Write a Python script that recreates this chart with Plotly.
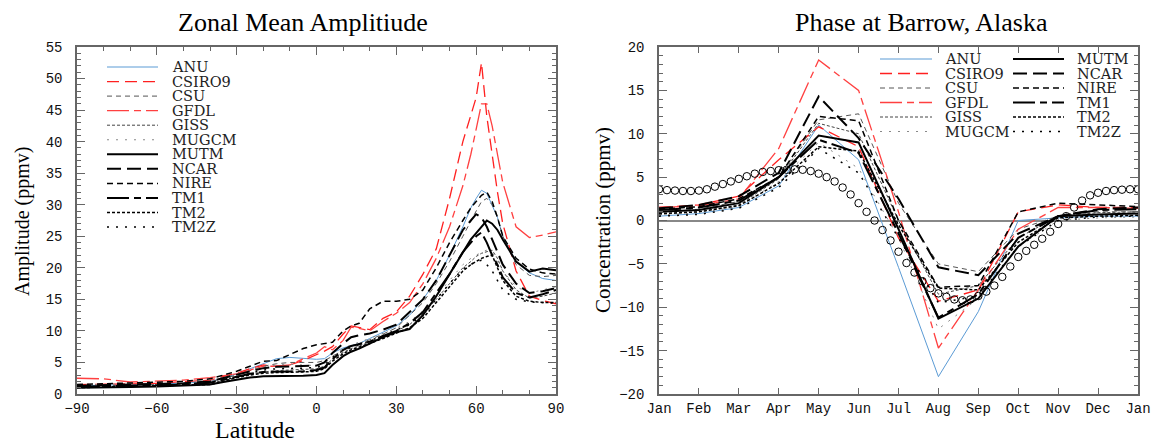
import plotly.graph_objects as go

W, H = 1156, 444

models = ["ANU", "CSIRO9", "CSU", "GFDL", "GISS", "MUGCM",
          "MUTM", "NCAR", "NIRE", "TM1", "TM2", "TM2Z"]

# ---- left panel: zonal mean seasonal amplitude (ppmv) vs latitude
lat = [-90, -80, -70, -60, -50, -40, -35, -30, -25, -20, -15, -10, -5, 0, 3, 6, 10, 13, 16, 20,
       25, 30, 35, 40, 45, 50, 55, 58, 60, 62, 64, 66, 68, 70, 75, 80, 85, 90]

amp_anu = [1.3, 1.4, 1.4, 1.5, 1.7, 2.0, 2.5, 3.2, 4.0, 4.8, 5.6, 5.8, 5.6, 5.5, 5.6, 6.5, 7.3, 7.7, 8.0, 8.8,
           9.8, 10.8, 12.5, 15.0, 18.0, 22.0, 26.5, 29.5, 31.0, 32.3, 31.8, 30.0, 28.0, 25.0, 21.0, 19.2, 18.3, 18.0]
amp_csiro9 = [1.5, 1.5, 1.6, 1.7, 1.9, 2.2, 2.8, 3.3, 4.0, 4.6, 4.4, 4.6, 5.3, 6.2, 6.8, 7.5, 9.5, 10.8, 10.5, 10.2,
              12.0, 13.0, 15.5, 19.0, 23.0, 31.0, 40.0, 44.0, 47.0, 52.5, 44.0, 38.0, 32.0, 27.0, 19.5, 15.5, 14.8, 14.3]
amp_csu = [1.2, 1.3, 1.3, 1.4, 1.6, 1.9, 2.4, 3.0, 3.7, 4.4, 4.8, 5.0, 5.0, 5.0, 5.3, 6.0, 7.0, 7.6, 8.0, 8.6,
           9.5, 10.5, 12.5, 14.5, 17.5, 21.0, 25.0, 27.5, 29.0, 30.5, 31.0, 30.0, 28.0, 25.0, 20.5, 18.8, 18.6, 18.8]
amp_gfdl = [2.5, 2.4, 1.9, 2.0, 2.2, 2.6, 2.9, 3.2, 3.8, 4.4, 4.4, 4.6, 5.6, 6.5, 7.5, 7.0, 8.5, 10.6, 10.4, 10.0,
            11.5, 12.8, 14.5, 17.5, 21.5, 26.5, 33.0, 38.0, 42.0, 46.0, 46.0, 42.5, 38.0, 33.5, 26.5, 24.8, 25.2, 25.7]
amp_giss = [1.1, 1.2, 1.2, 1.3, 1.4, 1.7, 2.1, 2.6, 3.1, 3.5, 3.7, 3.8, 3.9, 4.0, 4.4, 5.5, 6.6, 7.2, 7.6, 8.2,
            9.0, 10.0, 11.0, 12.8, 15.0, 17.5, 20.0, 21.0, 21.8, 22.3, 22.6, 22.8, 21.5, 19.5, 16.5, 15.2, 15.5, 16.0]
amp_mugcm = [1.4, 1.5, 1.5, 1.6, 1.8, 2.1, 2.6, 3.2, 3.8, 4.3, 4.6, 4.7, 4.6, 4.5, 4.8, 6.0, 7.2, 7.8, 8.2, 8.8,
             9.6, 10.4, 11.5, 13.2, 15.5, 18.0, 20.5, 21.5, 22.0, 22.5, 22.8, 22.5, 21.0, 19.5, 17.0, 16.0, 16.5, 17.0]
amp_mutm = [1.0, 1.0, 1.1, 1.2, 1.3, 1.5, 1.9, 2.3, 2.6, 2.8, 2.8, 2.8, 2.9, 3.0, 3.3, 4.6, 6.0, 6.7, 7.2, 8.0,
            9.0, 9.8, 10.3, 12.5, 15.5, 19.0, 22.5, 24.5, 25.5, 26.5, 27.5, 27.0, 26.0, 24.5, 21.0, 19.4, 19.9, 19.6]
amp_ncar = [1.3, 1.4, 1.4, 1.5, 1.7, 2.0, 2.5, 3.0, 3.6, 4.1, 4.3, 4.4, 4.4, 4.5, 5.0, 6.5, 8.0, 9.0, 9.3, 9.6,
            10.2, 11.0, 13.0, 15.0, 18.0, 22.0, 26.0, 27.5, 28.5, 28.0, 26.5, 24.5, 22.5, 20.5, 17.5, 16.0, 16.3, 16.8]
amp_nire = [1.5, 1.6, 1.7, 1.8, 2.0, 2.4, 3.0, 3.6, 4.4, 5.2, 5.3, 6.2, 7.2, 7.8, 8.0, 8.2, 10.0, 10.8, 11.2, 13.5,
            14.7, 14.7, 15.0, 16.5, 20.0, 24.0, 27.5, 29.5, 30.5, 31.5, 32.0, 30.5, 28.0, 25.0, 21.5, 19.8, 19.2, 19.0]
amp_tm1 = [1.2, 1.2, 1.3, 1.4, 1.5, 1.8, 2.3, 2.8, 3.2, 3.5, 3.5, 3.5, 3.6, 3.8, 4.2, 5.5, 7.0, 7.6, 7.9, 8.3,
           9.2, 10.0, 11.2, 13.0, 16.0, 19.0, 22.5, 24.0, 25.0, 25.6, 24.0, 22.0, 20.5, 18.5, 16.0, 15.3, 15.8, 16.5]
amp_tm2 = [1.0, 1.1, 1.1, 1.2, 1.3, 1.5, 2.0, 2.6, 3.0, 3.3, 3.4, 3.4, 3.5, 3.6, 4.0, 5.2, 6.4, 7.0, 7.4, 8.0,
           8.8, 9.6, 10.5, 12.0, 14.5, 17.0, 19.5, 20.5, 21.0, 21.5, 21.8, 22.0, 20.0, 18.0, 15.5, 14.7, 14.5, 14.5]
amp_tm2z = [1.1, 1.1, 1.2, 1.3, 1.4, 1.6, 2.2, 2.7, 3.2, 3.8, 4.0, 4.0, 4.1, 4.2, 4.6, 5.8, 6.9, 7.4, 7.8, 8.4,
            9.3, 10.2, 11.0, 12.5, 15.0, 17.5, 19.8, 20.5, 21.0, 21.2, 20.5, 19.5, 18.0, 16.5, 15.0, 14.6, 14.5, 14.4]

# ---- right panel: seasonal cycle at Barrow (ppmv)
months = list(range(13))
month_labels = ["Jan", "Feb", "Mar", "Apr", "May", "Jun", "Jul",
                "Aug", "Sep", "Oct", "Nov", "Dec", "Jan"]

ph_anu = [0.5, 0.8, 1.5, 4.0, 11.0, 7.0, -5.4, -18.0, -10.5, 0.0, 0.3, 0.5, 0.5]
ph_csiro9 = [1.5, 1.8, 2.8, 7.0, 10.8, 8.5, -2.0, -9.3, -8.0, 1.0, 1.8, 1.5, 1.5]
ph_csu = [1.0, 1.3, 2.2, 5.0, 11.6, 12.3, 2.0, -5.0, -5.9, -1.0, 0.5, 1.0, 1.0]
ph_gfdl = [1.5, 1.7, 2.5, 8.3, 18.5, 15.0, 1.0, -14.7, -8.0, -1.0, 1.5, 1.5, 1.4]
ph_giss = [0.7, 1.0, 1.8, 4.8, 11.2, 10.0, 0.0, -8.5, -7.5, -2.0, 0.5, 0.9, 1.0]
ph_mugcm = [0.6, 0.9, 1.6, 4.5, 9.0, 6.0, -2.0, -12.5, -9.0, -3.0, 0.0, 0.3, 0.4]
ph_mutm = [1.0, 1.2, 2.0, 5.0, 9.8, 9.0, -1.0, -11.3, -9.0, -3.0, 0.5, 0.7, 0.8]
ph_ncar = [1.4, 1.8, 2.8, 5.5, 14.3, 9.5, 2.5, -5.4, -6.3, -1.5, 0.5, 1.3, 1.5]
ph_nire = [1.3, 1.6, 2.5, 5.0, 12.0, 11.5, 0.0, -7.7, -7.5, 1.0, 2.0, 1.8, 1.6]
ph_tm1 = [1.2, 1.5, 2.3, 5.0, 9.3, 7.8, -1.5, -11.2, -8.5, -2.0, 0.5, 1.2, 1.3]
ph_tm2 = [0.8, 1.0, 1.7, 4.3, 8.5, 8.0, -0.5, -7.8, -8.0, -2.5, 0.3, 0.5, 0.6]
ph_tm2z = [0.5, 0.7, 1.4, 3.8, 8.3, 5.5, -2.0, -9.5, -8.7, -3.0, 0.0, 0.4, 0.5]

# observed cycle (circles), one value every 0.2 month
obs_t = [i * 0.2 for i in range(61)]
obs_barrow = [3.6, 3.5, 3.45, 3.4, 3.4, 3.45, 3.6, 3.9, 4.2, 4.5,
              4.8, 5.1, 5.4, 5.6, 5.7, 5.8, 5.85, 5.9, 5.85, 5.7,
              5.4, 5.0, 4.5, 3.8, 3.0, 2.0, 1.0, 0.0, -1.1, -2.3,
              -3.6, -4.9, -6.0, -7.0, -7.8, -8.4, -8.8, -9.1, -9.2, -9.1,
              -8.7, -8.2, -7.5, -6.5, -5.3, -4.2, -3.5, -2.8, -2.1, -1.3,
              -0.4, 0.5, 1.5, 2.3, 2.9, 3.2, 3.4, 3.5, 3.55, 3.6, 3.6]

amp = dict(zip(models, [amp_anu, amp_csiro9, amp_csu, amp_gfdl, amp_giss, amp_mugcm,
                        amp_mutm, amp_ncar, amp_nire, amp_tm1, amp_tm2, amp_tm2z]))
phase = dict(zip(models, [ph_anu, ph_csiro9, ph_csu, ph_gfdl, ph_giss, ph_mugcm,
                          ph_mutm, ph_ncar, ph_nire, ph_tm1, ph_tm2, ph_tm2z]))

styles = {
    "ANU": dict(color="#5b9bd5", dash="solid", width=1),
    "CSIRO9": dict(color="#ff2020", dash="12px,6px", width=1.3),
    "CSU": dict(color="#555555", dash="5px,4px", width=1),
    "GFDL": dict(color="#ff4040", dash="22px,5px,7px,5px", width=1.3),
    "GISS": dict(color="#444444", dash="3px,2px", width=1),
    "MUGCM": dict(color="#888888", dash="2px,7px", width=1),
    "MUTM": dict(color="black", dash="solid", width=2),
    "NCAR": dict(color="black", dash="14px,6px", width=2),
    "NIRE": dict(color="black", dash="6px,4px", width=1.5),
    "TM1": dict(color="black", dash="22px,5px,7px,5px", width=2),
    "TM2": dict(color="black", dash="3px,2px", width=1.5),
    "TM2Z": dict(color="black", dash="2px,7px", width=1.5),
}

fig = go.Figure()
for m in models:
    fig.add_trace(go.Scatter(x=lat, y=amp[m], mode="lines", name=m, line=styles[m],
                             xaxis="x", yaxis="y", showlegend=False))
for m in models:
    fig.add_trace(go.Scatter(x=months, y=phase[m], mode="lines", name=m, line=styles[m],
                             xaxis="x2", yaxis="y2", showlegend=False))
fig.add_trace(go.Scatter(x=obs_t, y=obs_barrow, mode="markers", name="obs",
                         marker=dict(symbol="circle-open", size=7.5, color="black", line=dict(width=1)),
                         xaxis="x2", yaxis="y2", showlegend=False))


def px(x):
    return x / W


def py(y):
    return 1 - y / H


tickfont = dict(family="Liberation Mono", size=14, color="#111")
ax = dict(showline=True, linecolor="#666", linewidth=1.5, mirror="ticks", ticks="inside",
          tickcolor="#666", tickwidth=1.2, showgrid=False, zeroline=False, tickfont=tickfont,
          automargin=False)
ydom = [py(394), py(47)]

fig.update_layout(
    width=W, height=H, template="none",
    paper_bgcolor="white", plot_bgcolor="white",
    margin=dict(l=0, r=0, t=0, b=0),
    xaxis=dict(ax, domain=[px(77), px(556)], range=[-90, 90], dtick=30, tick0=0, ticklen=8,
               ticklabelstandoff=0,
               minor=dict(dtick=10, ticklen=4, ticks="inside", tickcolor="#666")),
    yaxis=dict(ax, domain=ydom, range=[0, 55], dtick=5, ticklen=8, ticklabelstandoff=10,
               minor=dict(dtick=1, ticklen=4, ticks="inside", tickcolor="#666")),
    xaxis2=dict(ax, domain=[px(659), px(1138)], range=[0, 12], tickvals=months,
                ticktext=month_labels, ticklen=6, ticklabelstandoff=0, anchor="y2"),
    yaxis2=dict(ax, domain=ydom, range=[-20, 20], dtick=5, ticklen=8, ticklabelstandoff=10,
                anchor="x2", zeroline=True, zerolinecolor="#888", zerolinewidth=1.5,
                minor=dict(dtick=1, ticklen=4, ticks="inside", tickcolor="#666")),
)

serif = "Liberation Serif"
annots = [
    dict(text="Zonal Mean Amplitiude", x=px(303), y=py(22), size=26, angle=0),
    dict(text="Phase at Barrow, Alaska", x=px(921), y=py(22), size=26, angle=0),
    dict(text="Latitude", x=px(255), y=py(430), size=24, angle=0),
    dict(text="Amplitude (ppmv)", x=px(22), y=py(222), size=20, angle=-90),
    dict(text="Concentration (ppmv)", x=px(603), y=py(220), size=21, angle=-90),
]
for a in annots:
    fig.add_annotation(text=a["text"], x=a["x"], y=a["y"], xref="paper", yref="paper",
                       showarrow=False, textangle=a["angle"], xanchor="center", yanchor="middle",
                       font=dict(family=serif, size=a["size"], color="black"))

# hand-placed legends (left: one column, right: two columns)
legfont = dict(family="DejaVu Serif", size=14.5, color="#222")


def legend_entry(m, x0, x1, xt, y):
    st = styles[m]
    fig.add_shape(type="line", xref="paper", yref="paper", x0=px(x0), x1=px(x1),
                  y0=py(y), y1=py(y), line=dict(color=st["color"], dash=st["dash"], width=st["width"]))
    fig.add_annotation(text=m, x=px(xt), y=py(y), xref="paper", yref="paper", showarrow=False,
                       xanchor="left", yanchor="middle", font=legfont)


for i, m in enumerate(models):
    legend_entry(m, 107, 158, 170, 67 + i * 14.55)

for i, m in enumerate(models):
    col, row = divmod(i, 6)
    if col == 0:
        legend_entry(m, 880, 932, 943, 59 + row * 14.5)
    else:
        legend_entry(m, 1013, 1064, 1075, 59 + row * 14.5)

# drop the default page margin so the figure sits at the window's corner
fig.write_html("out.html", config={"displayModeBar": False},
               post_script="document.body.style.margin='0';")
